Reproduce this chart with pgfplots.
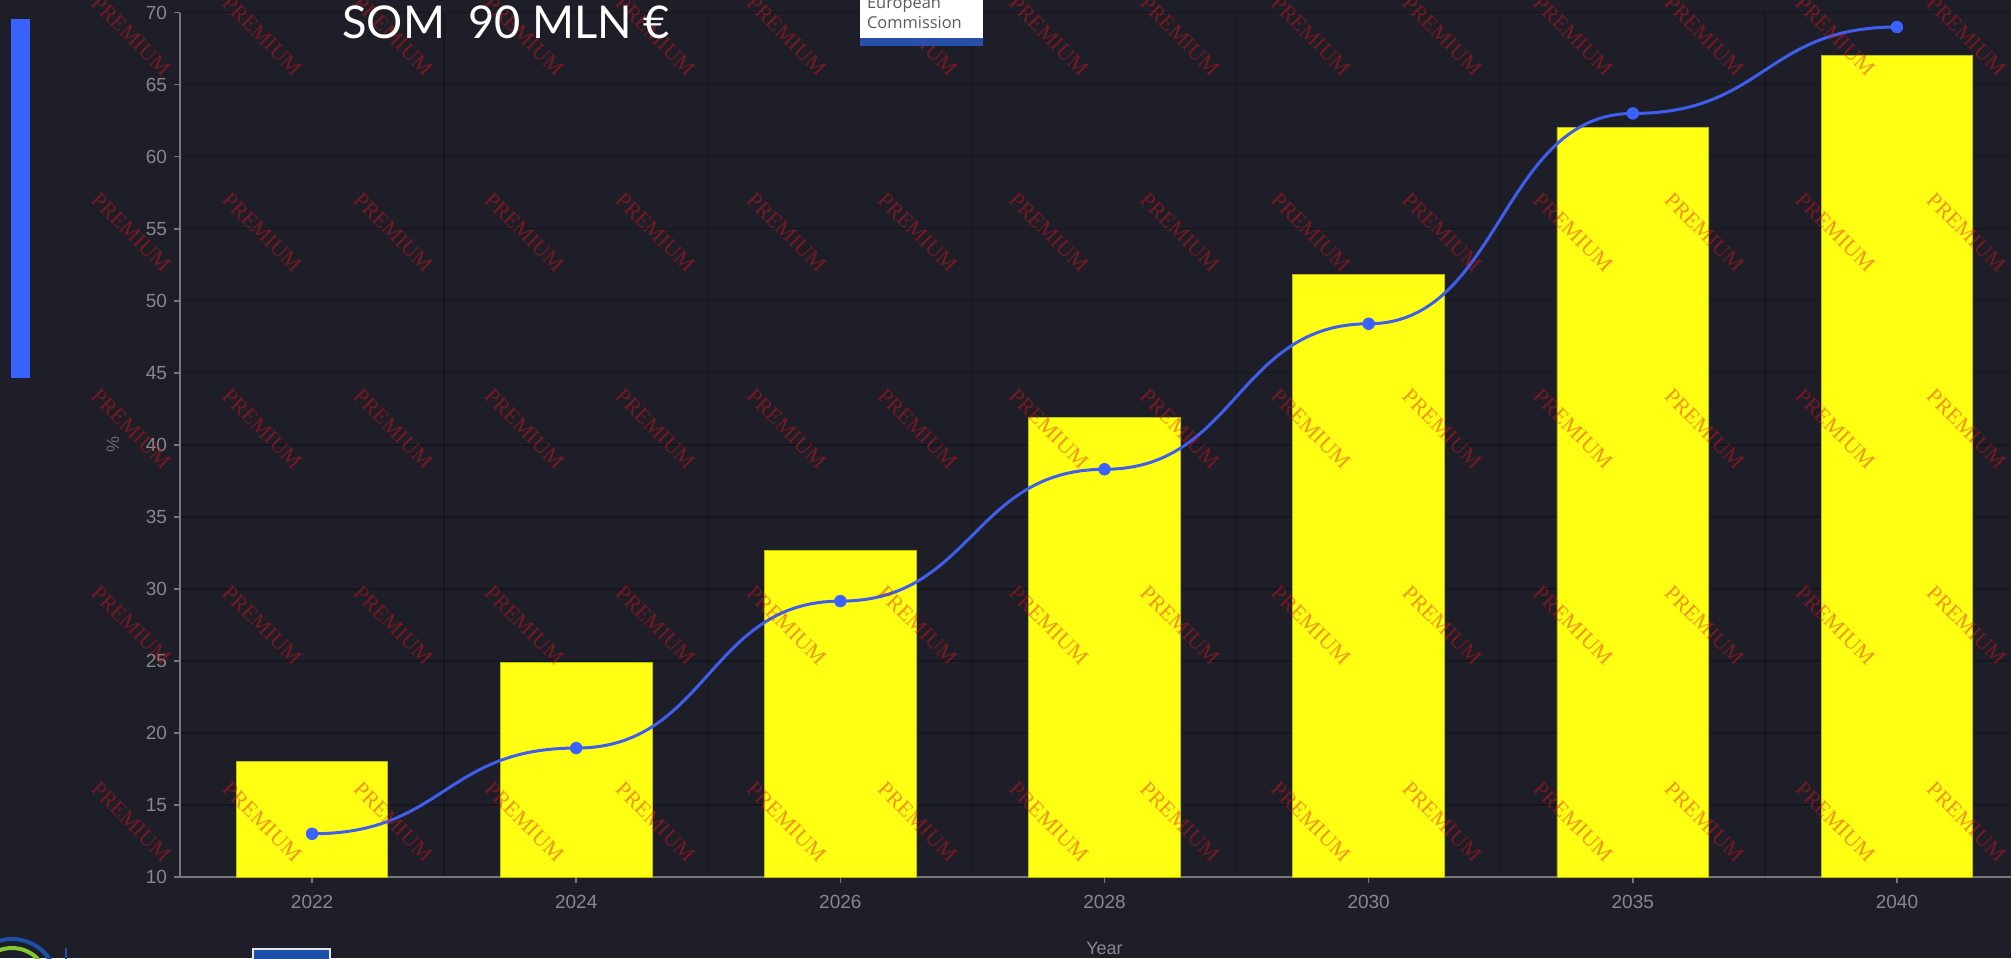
\documentclass[border=0pt]{standalone}
\usepackage{fontspec}
\usepackage{pgfplots}
\usepackage{pgfplotstable}
\pgfplotsset{compat=1.18}
\setmainfont{Liberation Sans}
\newfontfamily\latofont{Lato}
\newfontfamily\wmfont{Liberation Serif}
\newfontfamily\ecfont{Open Sans}
\definecolor{bg}{RGB}{30,30,41}
\definecolor{gridc}{RGB}{22,22,31}
\definecolor{axisc}{RGB}{120,120,124}
\definecolor{tickc}{RGB}{135,135,140}
\definecolor{ylabc}{RGB}{105,105,110}
\definecolor{barY}{RGB}{255,255,20}
\definecolor{barEdge}{RGB}{190,190,0}
\definecolor{lineB}{RGB}{62,94,235}
\definecolor{markB}{RGB}{58,98,255}
\definecolor{leftblue}{RGB}{58,98,255}
\definecolor{wmred}{RGB}{225,20,25}
\definecolor{ecblue}{RGB}{40,80,170}
\definecolor{ecgray}{RGB}{90,90,95}
\definecolor{logogreen}{RGB}{130,200,50}
\definecolor{logoblue}{RGB}{30,80,170}
\pgfplotstableread{
x y
0 18
1 24.9
2 32.65
3 41.9
4 51.85
5 62
6 67
}\bardata
\pgfplotstableread{
x y
0 13
1 18.95
2 29.15
3 38.3
4 48.4
5 63
6 69
}\linedata
\begin{document}
\begin{tikzpicture}
\useasboundingbox (0,0) rectangle (1005.5pt,479pt);
\clip (0,0) rectangle (1005.5pt,479pt);
\fill[bg] (0,0) rectangle (1005.5pt,479pt);
\begin{scope}[x=0.5pt,y=0.5pt]
  \fill[leftblue] (11,939.25) rectangle (30.4,580);
\end{scope}
\begin{axis}[
  at={(90pt,40.5pt)}, anchor=south west,
  scale only axis, width=924.5pt, height=432.2pt,
  xmin=-0.5, xmax=6.5, ymin=10, ymax=70,
  xtick={0,...,6}, xticklabels={2022,2024,2026,2028,2030,2035,2040},
  ytick={10,15,...,70},
  minor xtick={-0.5,0.5,...,6.5},
  xminorgrids, ymajorgrids,
  minor grid style={gridc, line width=0.7pt},
  major grid style={gridc, line width=0.7pt},
  axis x line*=bottom, axis y line*=left,
  axis line style={axisc, line width=0.8pt, -},
  tick style={axisc, line width=0.8pt},
  tick align=outside, major tick length=3pt, minor tick length=0pt,
  ticklabel style={font=\fontsize{9.5}{11}\selectfont, text=tickc},
  xticklabel style={yshift=-2.5pt},
  /pgf/number format/assume math mode=true,
  xlabel={Year}, ylabel={\%},
  xlabel style={at={(axis description cs:0.5,0)}, anchor=center, yshift=-35.5pt, font=\fontsize{9}{11}\selectfont, text=tickc},
  ylabel style={at={(axis description cs:0,0.5)}, anchor=center, yshift=33.5pt, font=\fontsize{9}{11}\selectfont, text=ylabc},
]
\addplot[ybar, bar width=0.574, fill=barY, draw=barEdge, line width=0.4pt] table[x=x,y=y] {\bardata};
\pgfplotsinvokeforeach{0,...,5}{%
  \pgfplotstablegetelem{#1}{y}\of\linedata \let\ya=\pgfplotsretval
  \pgfmathtruncatemacro{\nx}{#1+1}%
  \pgfplotstablegetelem{\nx}{y}\of\linedata \let\yb=\pgfplotsretval
  \edef\seg{\noexpand\draw[lineB, line width=1.5pt] (axis cs:#1,\ya) .. controls (axis cs:#1.5,\ya) and (axis cs:#1.5,\yb) .. (axis cs:\nx,\yb);}%
  \seg
}
\addplot[only marks, mark=*, mark size=2.9pt, mark options={fill=markB, draw=markB}] table[x=x,y=y] {\linedata};
\end{axis}
\begin{scope}[x=0.5pt,y=0.5pt]
  \foreach \k in {0,...,14}{
    \foreach \j in {0,...,4}{
      \node[rotate=-45, text=wmred, text opacity=0.45, font=\wmfont\fontsize{10.9}{12}\selectfont, inner sep=0] at ({131+131.1*\k},{922-196.5*\j}) {PREMIUM};
    }
  }
  \node[anchor=base west, text=white, font=\latofont\fontsize{22.6}{24}\selectfont, inner sep=0] at (342,919.5) {SOM~~90 MLN €};
  \fill[white] (860,920) rectangle (982.7,965);
  \fill[ecblue] (860,912.3) rectangle (982.7,920);
  \node[anchor=base west, inner sep=0, text=ecgray, font=\ecfont\fontsize{8.2}{9}\selectfont] at (866.7,929.7) {Commission};
  \node[anchor=base west, inner sep=0, text=ecgray, font=\ecfont\fontsize{8.2}{9}\selectfont] at (866.7,949.5) {European};
  \draw[logoblue, line width=2pt] (12,-26) circle (45);
  \draw[logogreen, line width=2pt] (12,-26) circle (36);
  \draw[logoblue, line width=1pt] (66,-5) -- (66,10);
  \fill[logoblue] (253,-5) rectangle (330,9);
  \draw[white!80!gray, line width=1pt] (253,-5) rectangle (330,9);
\end{scope}
\end{tikzpicture}
\end{document}
